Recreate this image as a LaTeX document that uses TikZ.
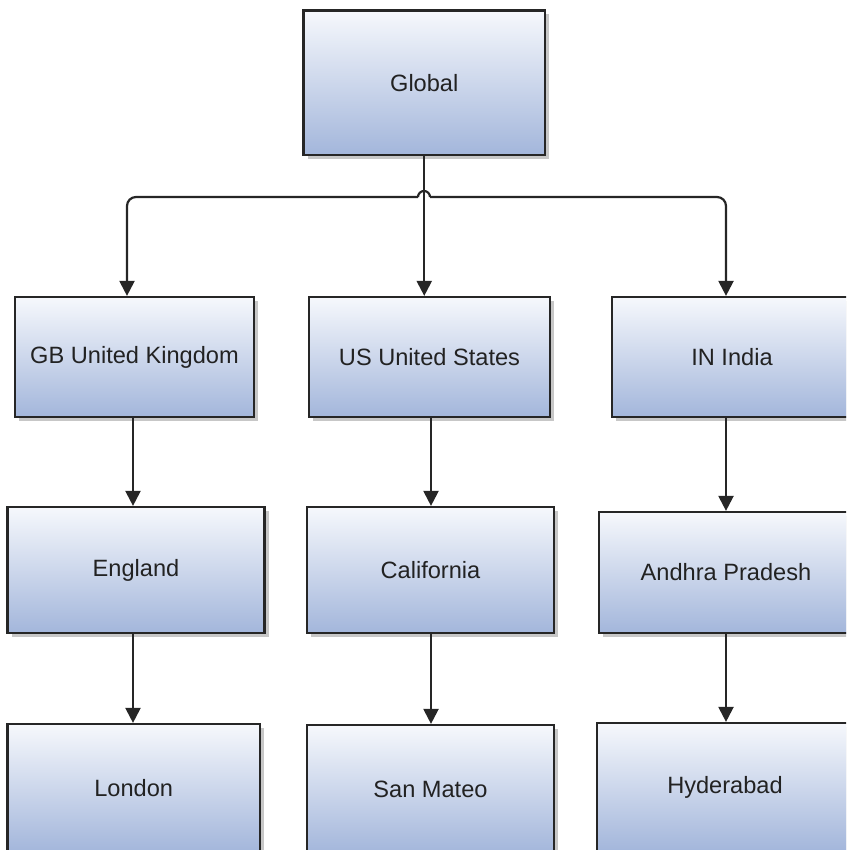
\documentclass[tikz,border=0pt]{standalone}
\usepackage{fontspec}
\setmainfont{Liberation Sans}
\usetikzlibrary{arrows.meta,shadows,calc}
\definecolor{boxtop}{HTML}{F6F8FC}
\definecolor{boxbot}{HTML}{A3B6DB}
\definecolor{edge}{HTML}{262626}
\definecolor{txt}{HTML}{222222}
\begin{document}
\begin{tikzpicture}[x=1pt,y=-1pt,
  box/.style={draw=edge, line width=2.2pt, top color=boxtop, bottom color=boxbot,
    shade, rectangle, inner sep=0pt, text=txt,
    font=\fontsize{23.6}{28}\selectfont,
    drop shadow={shadow xshift=4pt, shadow yshift=-4pt, opacity=0.22, fill=black}},
  conn/.style={draw=edge, line width=2.2pt},
  arr/.style={conn, -{Triangle[length=15pt,width=15pt]}}]
\useasboundingbox (0,0) rectangle (846,850);
\clip (0,0) rectangle (846,850);

% top
\node[box, minimum width=241.5, minimum height=144.5] (glob) at (424.25,82.75) {Global};
% row 1
\node[box, minimum width=239, minimum height=120] (gb) at (134.5,357) {GB United Kingdom};
\node[box, minimum width=241, minimum height=120] (us) at (429.5,357) {US United States};
\node[box, minimum width=240, minimum height=120] (in) at (732,357) {IN India};
% row 2
\node[box, minimum width=257, minimum height=126] (eng) at (136,570) {England};
\node[box, minimum width=247, minimum height=126] (cal) at (430.5,570) {California};
\node[box, minimum width=254, minimum height=121] (ap) at (726,572.5) {Andhra Pradesh};
% row 3
\node[box, minimum width=252.5, minimum height=128] (lon) at (133.75,788) {London};
\node[box, minimum width=247, minimum height=128] (sm) at (430.5,789) {San Mateo};
\node[box, minimum width=256, minimum height=128] (hyd) at (725,787) {Hyderabad};

% connectors from Global
\coordinate (j) at (424,197);
\coordinate (hl) at (127,197);
\coordinate (hr) at (726,197);
\draw[arr] (glob.south) -- (glob.south |- us.north);
\draw[arr, rounded corners=9pt] ($(j)+(-6,0)$) -- (hl) -- (hl |- gb.north);
\draw[arr, rounded corners=9pt] ($(j)+(6,0)$) -- (hr) -- (hr |- in.north);
\draw[conn] ($(j)+(-6,0)$) arc (180:360:6);

% vertical chains
\coordinate (c1) at (133,0);
\coordinate (c2) at (431,0);
\coordinate (c3) at (726,0);
\draw[arr] (c1 |- gb.south) -- (c1 |- eng.north);
\draw[arr] (c2 |- us.south) -- (c2 |- cal.north);
\draw[arr] (c3 |- in.south) -- (c3 |- ap.north);
\draw[arr] (c1 |- eng.south) -- (c1 |- lon.north);
\draw[arr] (c2 |- cal.south) -- (c2 |- sm.north);
\draw[arr] (c3 |- ap.south) -- (c3 |- hyd.north);
\end{tikzpicture}
\end{document}
